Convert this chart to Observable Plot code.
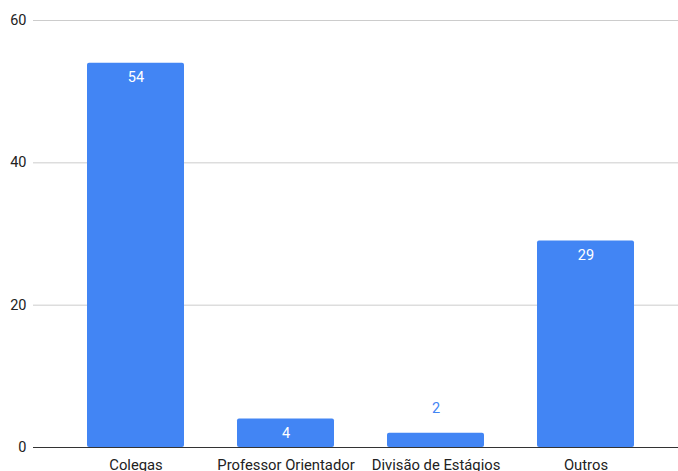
<!DOCTYPE html>
<html>
<head>
<meta charset="utf-8">
<script src="https://cdn.jsdelivr.net/npm/d3@7"></script>
<script src="https://cdn.jsdelivr.net/npm/@observablehq/plot@0.6"></script>
<style>
  html, body { margin: 0; padding: 0; background: #fff; }
  #chart svg { display: block; }
</style>
</head>
<body>
<div id="chart"></div>
<script>
// Where respondents heard about the internship
const categories = ["Colegas", "Professor Orientador", "Divisão de Estágios", "Outros"];
const counts = [54, 4, 2, 29];
const yTicks = [0, 20, 40, 60];

const data = categories.map((c, i) => ({category: c, value: counts[i]}));
const inside = data.filter(d => d.value >= 4);
const outside = data.filter(d => d.value < 4);

const blue = "#4285f4";
const font = "Roboto, 'Noto Sans', sans-serif";

const chart = Plot.plot({
  width: 678,
  height: 471,
  marginTop: 20,
  marginBottom: 24,
  marginLeft: 33,
  marginRight: 0,
  style: {fontFamily: font, fontSize: "14px", color: "#222", background: "#fff"},
  x: {domain: categories, range: [60.2, 661.4], paddingInner: 0.355, paddingOuter: 0.1775, label: null},
  y: {domain: [0, 60], label: null},
  marks: [
    Plot.ruleY(yTicks.filter(t => t > 0), {stroke: "#cccccc", strokeWidth: 1}),
    Plot.barY(data, {x: "category", y: "value", fill: blue, rx: 2}),
    Plot.ruleY([0], {stroke: "#333333", strokeWidth: 1}),
    Plot.text(inside, {x: "category", y: "value", text: d => String(d.value), dy: 14, fill: "#ffffff", fontSize: 14.5}),
    Plot.text(outside, {x: "category", y: "value", text: d => String(d.value), dy: -25, fill: blue, fontSize: 14.5}),
    Plot.axisY({ticks: yTicks, tickSize: 0, tickPadding: 7, fontSize: 14.5, fill: "#222"}),
    Plot.axisX({tickSize: 0, tickPadding: 12, fontSize: 14.8, fill: "#222"})
  ]
});

document.getElementById("chart").appendChild(chart);
</script>
</body>
</html>
